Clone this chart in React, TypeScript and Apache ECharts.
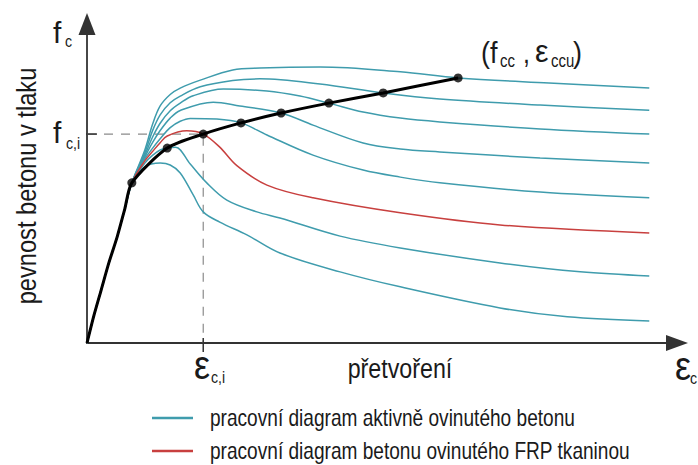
import React, { useEffect, useRef } from "react";
import * as echarts from "echarts";

const FONT = "'Liberation Sans', Arial, sans-serif";
const NARROW = 0.83;
const TEAL = "#3f9cad";
const RED = "#c8403f";
const INK = "#1a1a1a";

const ACTIVE_NAME = "pracovní diagram aktivně ovinutého betonu";
const FRP_NAME = "pracovní diagram betonu ovinutého FRP tkaninou";
const Y_TITLE = "pevnost betonu v tlaku";
const X_TITLE = "přetvoření";

// strain / stress in arbitrary units (0-100)
const branch = [[0, 0], [1.2, 8.8], [2.4, 16.6], [3.7, 25.1], [5.1, 33.2], [6.4, 42.0], [7.6, 50.2]];

const active1 = [[9.8, 55.2], [12.4, 56.4], [14.1, 55.8], [15.8, 53.3], [18.0, 46.4], [19.7, 41.1], [22.5, 37.9], [27.1, 33.9], [32.7, 28.2], [42.9, 22.3], [53.1, 17.6], [70.0, 11.0], [81.4, 8.2], [95.3, 6.9]];
const active2 = [[9.8, 56.4], [11.1, 58.8], [12.4, 60.5], [13.6, 61.1], [15.0, 61.4], [17.5, 56.1], [20.3, 50.2], [23.7, 44.8], [28.8, 41.1], [32.7, 39.2], [42.9, 33.5], [53.1, 29.8], [70.0, 25.1], [83.6, 22.3], [95.3, 21.0]];
const frp = [[9.8, 57.1], [11.1, 60.0], [12.4, 62.8], [13.6, 64.9], [16.9, 66.5], [19.7, 65.5], [22.5, 61.4], [25.4, 55.6], [30.5, 49.5], [38.3, 45.5], [53.1, 40.8], [70.0, 37.0], [95.3, 34.5]];
const active4 = [[9.8, 57.7], [11.1, 61.0], [12.4, 64.0], [14.1, 67.5], [15.8, 69.5], [17.5, 70.4], [22.0, 70.2], [26.1, 69.0], [30.5, 65.2], [38.3, 58.9], [46.8, 54.2], [53.1, 52.0], [59.8, 50.2], [76.8, 47.3], [95.3, 45.5]];
const active5 = [[9.8, 58.3], [11.1, 62.8], [12.4, 66.6], [14.1, 70.5], [15.8, 72.9], [21.4, 75.5], [25.9, 74.3], [32.9, 72.1], [38.3, 68.3], [46.8, 62.7], [53.1, 60.8], [59.8, 59.9], [76.8, 58.0], [95.3, 56.4]];
const active6 = [[9.8, 58.9], [11.1, 64.5], [12.4, 68.9], [14.1, 72.8], [15.8, 75.2], [18.0, 77.5], [23.1, 79.6], [30.5, 79.0], [36.1, 77.4], [41.0, 75.2], [46.8, 72.4], [53.1, 70.5], [59.8, 69.3], [76.8, 67.1], [95.3, 65.5]];
const active7 = [[9.8, 59.6], [11.1, 66.5], [12.4, 71.5], [14.1, 75.3], [15.8, 77.4], [19.2, 80.3], [24.7, 82.3], [29.3, 82.8], [39.5, 81.2], [50.2, 78.4], [59.8, 76.5], [76.8, 74.6], [95.3, 73.0]];
const active8 = [[9.8, 60.5], [11.1, 68.5], [12.4, 74.3], [14.1, 77.9], [15.8, 79.9], [19.2, 82.4], [24.7, 85.6], [29.3, 86.2], [39.5, 86.5], [53.1, 85.0], [62.9, 83.1], [78.3, 81.5], [95.3, 79.9]];

// ultimate points (f_cc, e_ccu) of each curve
const ultimatePoints = [[7.6, 50.2], [13.6, 61.1], [19.7, 65.5], [26.1, 69.0], [32.9, 72.1], [41.0, 75.2], [50.2, 78.4], [62.9, 83.1]];

const fci = 65.5;
const eci = 19.7;

const activeCurves = [active1, active2, active4, active5, active6, active7, active8];
const legendItems = [
  { name: ACTIVE_NAME, color: TEAL },
  { name: FRP_NAME, color: RED },
];

// text placed by its alphabetic baseline
function txt(text: string, x: number, baseline: number, F: number, o: any = {}) {
  const rot = o.rotation || 0;
  const c = 0.35 * F;
  return {
    type: "text",
    x: rot ? baseline - c : x,
    y: rot ? x : baseline - c,
    rotation: rot,
    scaleX: o.scaleX ?? NARROW,
    silent: true,
    style: {
      text,
      fontSize: F,
      fontFamily: FONT,
      fill: INK,
      align: o.align || "left",
      verticalAlign: "middle",
    },
  };
}

export default function App() {
  const ref = useRef<HTMLDivElement>(null);
  useEffect(() => {
    document.body.style.margin = "0";
    const chart = echarts.init(ref.current!, null, { renderer: "svg" });
    const lineBase = { type: "line", smooth: 0.35, showSymbol: false, symbol: "none", silent: true };
    const series: any[] = [
      {
        ...lineBase,
        name: "guide",
        smooth: false,
        data: [[0, fci], [eci, fci], [eci, 0]],
        lineStyle: { color: "#8a8a8a", width: 1.2, type: [9, 8] },
        z: 1,
      },
      {
        ...lineBase,
        name: "tickY",
        smooth: false,
        clip: false,
        data: [[-1.0, fci], [1.7, fci]],
        lineStyle: { color: "#333", width: 1.5 },
        z: 1,
      },
      {
        ...lineBase,
        name: "tickX",
        smooth: false,
        clip: false,
        data: [[eci, 1.6], [eci, -2.8]],
        lineStyle: { color: "#333", width: 1.5 },
        z: 1,
      },
      ...activeCurves.map((c) => ({
        ...lineBase,
        name: ACTIVE_NAME,
        data: branch.concat(c),
        lineStyle: { color: TEAL, width: 1.5 },
        itemStyle: { color: TEAL },
        z: 2,
      })),
      {
        ...lineBase,
        name: FRP_NAME,
        data: branch.concat(frp),
        lineStyle: { color: RED, width: 1.5 },
        itemStyle: { color: RED },
        z: 2,
      },
      {
        ...lineBase,
        name: "envelope",
        smooth: 0.25,
        data: branch.concat(ultimatePoints.slice(1)),
        lineStyle: { color: "#000", width: 3 },
        z: 3,
      },
      {
        type: "scatter",
        name: "ultimate",
        data: ultimatePoints,
        symbolSize: 9,
        itemStyle: { color: "#000" },
        silent: true,
        z: 4,
      },
    ];

    const legendGraphics: any[] = [];
    legendItems.forEach((it, i) => {
      const cy = 418 + i * 33;
      legendGraphics.push({
        type: "line",
        silent: true,
        shape: { x1: 152, y1: cy, x2: 193, y2: cy },
        style: { stroke: it.color, lineWidth: 2.5 },
      });
      legendGraphics.push(txt(it.name, 210, cy + 0.35 * 23, 23));
    });

    chart.setOption({
      animation: false,
      backgroundColor: "#fff",
      grid: { left: 87, right: 21, top: 24, bottom: 122, containLabel: false, outerBoundsMode: "none" },
      xAxis: {
        type: "value",
        min: 0,
        max: 100,
        axisLine: { show: true, symbol: ["none", "triangle"], symbolSize: [16, 22], lineStyle: { color: "#333", width: 2 } },
        axisTick: { show: false },
        axisLabel: { show: false },
        splitLine: { show: false },
      },
      yAxis: {
        type: "value",
        min: 0,
        max: 100,
        axisLine: { show: true, symbol: ["none", "triangle"], symbolSize: [17, 22], lineStyle: { color: "#333", width: 1.8 } },
        axisTick: { show: false },
        axisLabel: { show: false },
        splitLine: { show: false },
      },
      graphic: [
        txt(Y_TITLE, 186, 36, 28, { rotation: Math.PI / 2, align: "center", scaleX: 0.845 }),
        txt(X_TITLE, 400, 378, 28, { align: "center" }),
        txt("f", 53, 43, 30, { scaleX: 1 }),
        txt("c", 65, 47, 17),
        txt("f", 53, 143, 30, { scaleX: 1 }),
        txt("c,i", 66, 149, 17),
        txt("ε", 194, 379, 40, { scaleX: 0.9 }),
        txt("c,i", 211, 383, 17),
        txt("ε", 675, 380, 40, { scaleX: 0.9 }),
        txt("c", 690, 384, 17),
        txt("(f", 481, 63, 30, { scaleX: 0.9 }),
        txt("cc", 500, 67, 18),
        txt(",", 523, 63, 30),
        txt("ε", 535, 62, 32, { scaleX: 0.95 }),
        txt("ccu", 551, 67, 18),
        txt(")", 573, 63, 30, { scaleX: 0.9 }),
        ...legendGraphics,
      ],
      series,
    });
    return () => chart.dispose();
  }, []);
  return <div ref={ref} style={{ position: "fixed", left: 0, top: 0, width: 698, height: 465, background: "#fff" }} />;
}
